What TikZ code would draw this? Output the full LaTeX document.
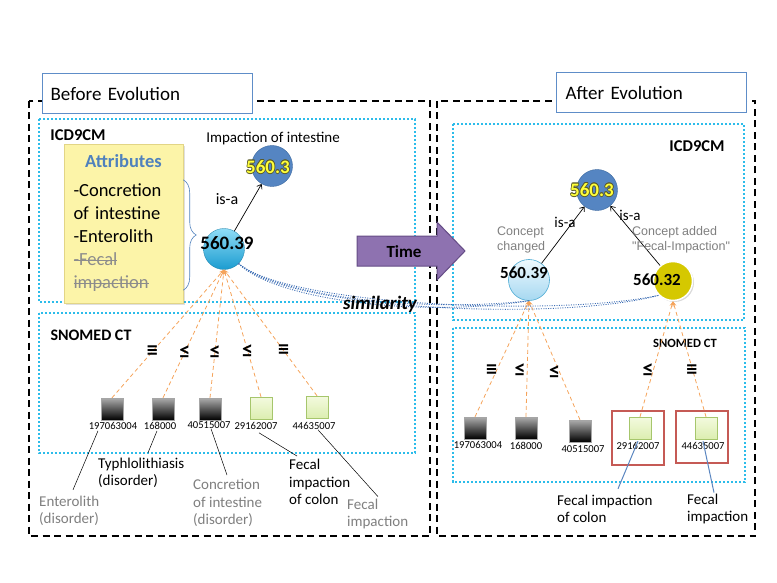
\documentclass[tikz,border=0pt]{standalone}
\usepackage{fontspec}
\setmainfont{Carlito}
\newfontfamily\arialfont{Liberation Sans}
\usetikzlibrary{positioning,arrows.meta,calc,decorations.pathreplacing,shadows}

\definecolor{titleblue}{HTML}{5E8DC8}
\definecolor{cyanline}{HTML}{2CBCEA}
\definecolor{attrblue}{HTML}{4F81BD}
\definecolor{attrfill}{HTML}{FCF4A8}
\definecolor{attrline}{HTML}{E2D586}
\definecolor{strikegray}{HTML}{8C8C8C}
\definecolor{ballblue}{HTML}{5585C2}
\definecolor{ballline}{HTML}{3B689F}
\definecolor{hlyellow}{HTML}{FFFF3A}
\definecolor{hlrim}{HTML}{5A5A28}
\definecolor{cyantop}{HTML}{8FDCF6}
\definecolor{cyanbot}{HTML}{1B9CD0}
\definecolor{paletop}{HTML}{EEF9FE}
\definecolor{palebot}{HTML}{A6D8F1}
\definecolor{paleline}{HTML}{4BAAD3}
\definecolor{olivefill}{HTML}{D5C800}
\definecolor{sqgreentop}{HTML}{F3FADF}
\definecolor{sqgreenbot}{HTML}{DCEEB0}
\definecolor{sqgreenline}{HTML}{A6C66C}
\definecolor{maporange}{HTML}{F5A35A}
\definecolor{simblue}{HTML}{3F6FB5}
\definecolor{timefill}{HTML}{8E72B0}
\definecolor{timeline}{HTML}{654C86}
\definecolor{redbox}{HTML}{C55A55}
\definecolor{notegray}{HTML}{7F7F7F}
\definecolor{pointerblue}{HTML}{5B86C0}

% struck-through text
\newcommand{\struck}[1]{\leavevmode
  \setbox0=\hbox{#1}\rlap{\rule[0.27em]{\wd0}{0.7pt}}\box0}
% yellow code with a dark rim
\newcommand{\rimmed}[1]{\leavevmode
  \setbox0=\hbox{#1}%
  \rlap{\color{hlrim}\kern0.7pt\copy0}%
  \rlap{\color{hlrim}\kern-0.7pt\copy0}%
  \rlap{\color{hlrim}\raisebox{0.7pt}{\copy0}}%
  \rlap{\color{hlrim}\raisebox{-0.7pt}{\copy0}}%
  \rlap{\color{hlrim}\kern0.5pt\raisebox{0.5pt}{\copy0}}%
  \rlap{\color{hlrim}\kern-0.5pt\raisebox{0.5pt}{\copy0}}%
  \rlap{\color{hlrim}\kern0.5pt\raisebox{-0.5pt}{\copy0}}%
  \rlap{\color{hlrim}\kern-0.5pt\raisebox{-0.5pt}{\copy0}}%
  \box0}

\begin{document}
\begin{tikzpicture}[
    x=1pt, y=-1pt,
    >=Stealth,
    frame/.style={draw=black, line width=1.6pt, dash pattern=on 7pt off 4.5pt},
    titlebox/.style={
        rectangle,
        draw=titleblue,
        line width=1.3pt,
        fill=white,
        anchor=north west,
        align=left,
        font=\fontsize{19}{22}\selectfont
    },
    ontobox/.style={draw=cyanline, line width=1.1pt, dash pattern=on 2.4pt off 1.6pt},
    ontolbl/.style={font=\bfseries\fontsize{16.5}{18}\selectfont},
    attrbox/.style={
        rectangle,
        draw=attrline,
        fill=attrfill,
        drop shadow={opacity=0.25, shadow xshift=2pt, shadow yshift=-2pt},
        minimum width=119pt,
        minimum height=159pt,
        inner xsep=9.5pt,
        text width=100pt,
        align=left,
        font=\fontsize{18.5}{23}\selectfont
    },
    concept/.style={circle, minimum size=41pt, inner sep=0pt},
    codelbl/.style={font=\bfseries\fontsize{19}{20}\selectfont, inner sep=0pt},
    codesmall/.style={font=\bfseries\fontsize{17}{18}\selectfont, inner sep=0pt},
    isa/.style={->, >={Straight Barb[length=4pt,width=6pt]}, line width=0.7pt},
    isalbl/.style={font=\fontsize{16}{18}\selectfont},
    sct/.style={rectangle, minimum size=22pt, inner sep=0pt},
    darksq/.style={sct, draw=gray!70, top color=gray!65, bottom color=black},
    greensq/.style={sct, draw=sqgreenline, top color=sqgreentop, bottom color=sqgreenbot},
    sctid/.style={font=\fontsize{10.6}{12}\selectfont, inner sep=1pt},
    rel/.style={font=\bfseries\fontsize{22}{24}\selectfont, inner sep=0pt},
    mapping/.style={draw=maporange, line width=0.8pt, dash pattern=on 4pt off 3pt,
        -{Stealth[length=5pt,width=4pt]}},
    similar/.style={draw=simblue, line width=0.9pt, dash pattern=on 1pt off 1.4pt},
    note/.style={align=left, anchor=west, inner sep=0pt, font=\fontsize{15}{17.5}\selectfont},
    graynote/.style={note, text=notegray},
    pointer/.style={draw=black, line width=0.5pt},
    bluepointer/.style={draw=pointerblue, line width=1pt},
    remark/.style={align=left, anchor=west, inner sep=0pt, text=notegray,
        font=\arialfont\fontsize{12.5}{15}\selectfont},
    focus/.style={rectangle, draw=redbox, line width=1.6pt}
]
\useasboundingbox (0,0) rectangle (777,583);

% frames
\draw[frame] (29,101) rectangle (430,536);
\draw[frame] (437,101) rectangle (755,536);
\node[titlebox, minimum width=210pt, minimum height=40pt, inner xsep=8pt, text width=194pt]
    (before) at (42,73) {Before Evolution};
\node[titlebox, minimum width=190pt, minimum height=40pt, inner xsep=9pt, text width=172pt]
    (after) at (556,72) {After Evolution};

% ontology boxes
\draw[ontobox] (39,119) rectangle (415,302);
\draw[ontobox] (39,313) rectangle (415,453);
\draw[ontobox] (453,124) rectangle (744,320);
\draw[ontobox] (453,328) rectangle (745,482);

\node[ontolbl] (licd) at (78,135) {ICD9CM};
\node[ontolbl, font=\bfseries\fontsize{16}{18}\selectfont] (lsct) at (91,335) {SNOMED CT};
\node[ontolbl] (ricd) at (697,146) {ICD9CM};
\node[ontolbl, font=\bfseries\fontsize{12.6}{14}\selectfont] (rsct) at (685,343) {SNOMED CT};

% time
\draw[fill=timefill, draw=timeline, line width=1pt]
    (357,236) -- (437,236) -- (437,222) -- (465,251) -- (437,280) -- (437,266) -- (357,266) -- cycle;
\node[font=\bfseries\fontsize{17}{18}\selectfont] (time) at (404,252) {Time};

% before evolution: ICD9CM
\node[attrbox] (attr) at (123.5,223.5) {%
    {\color{attrblue}\bfseries\makebox[100pt]{Attributes}}\\[6pt]
    -Concretion\\
    of intestine\\
    -Enterolith\\
    \textcolor{strikegray}{\struck{-Fecal}}\\
    \textcolor{strikegray}{\struck{impaction}}};
\draw[attrblue, line width=0.6pt, decorate, decoration={brace, amplitude=13pt}]
    ($(attr.north east)+(0,36)$) -- ($(attr.south east)+(0,-13)$);

\node[concept, draw=ballline, fill=ballblue] (l3) at (272,166) {};
\node[codelbl, text=hlyellow] (l3t) at (268,167) {\rimmed{560.3}};
\node[font=\fontsize{15}{17}\selectfont] (l3cap) at (273,139) {Impaction of intestine};
\node[concept, draw=cyanbot!80!black, line width=0.3pt, top color=cyantop, bottom color=cyanbot] (l39) at (224,249) {};
\node[codelbl] (l39t) at (227,243) {560.39};
\draw[isa] (l39) -- (l3);
\node[isalbl] (lisa) at (227,199) {is-a};

% before evolution: SNOMED CT
\node[darksq] (ls1) at (112,409) {};
\node[darksq] (ls2) at (163,409) {};
\node[darksq] (ls3) at (210,409) {};
\node[greensq] (ls4) at (261,408) {};
\node[greensq] (ls5) at (317,407) {};
\node[sctid] (lid1) at (113,426) {197063004};
\node[sctid] (lid2) at (160,426) {168000};
\node[sctid] (lid3) at (209,425) {40515007};
\node[sctid] (lid4) at (256,426) {29162007};
\node[sctid] (lid5) at (314,426) {44635007};

\foreach \s/\r in {ls1/≡, ls2/≤, ls3/≤, ls4/≤, ls5/≡}
    \draw[mapping] (\s.north) -- node[rel, pos=0.36] {\r} (l39.south);

\node[graynote] (lnote1) at (39,511) {Enterolith\\(disorder)};
\node[note] (lnote2) at (98,473) {Typhlolithiasis\\(disorder)};
\node[graynote] (lnote3) at (193,503) {Concretion\\of intestine\\(disorder)};
\node[note] (lnote4) at (289,482) {Fecal\\impaction\\of colon};
\node[graynote] (lnote5) at (347,514) {Fecal\\impaction};

\draw[pointer] ($(lnote1.north west)+(34,-6)$) -- ($(lid1.south)+(-15,0)$);
\draw[pointer] ($(lnote2.north west)+(50,-5)$) -- ($(lid2.south)+(-3,0)$);
\draw[pointer] ($(lnote3.north west)+(34,-4)$) -- ($(lid3.south)+(2,-1)$);
\draw[pointer] ($(lnote4.north west)+(8,-3)$) -- ($(lid4.south)+(3,2)$);
\draw[pointer] ($(lnote5.north west)+(31,-2)$) -- ($(lid5.south)+(4,-1)$);

% after evolution: ICD9CM
\node[concept, draw=ballline, fill=ballblue] (r3) at (597,190) {};
\node[codelbl, text=hlyellow] (r3t) at (592,190) {\rimmed{560.3}};
\node[concept, draw=paleline, line width=0.6pt, top color=paletop, bottom color=palebot] (r39) at (529,280) {};
\node[codesmall] (r39t) at (524,273) {560.39};
\node[concept, minimum size=39pt, draw=white, line width=1.5pt, fill=olivefill,
      drop shadow={opacity=0.3, shadow xshift=1.5pt, shadow yshift=-1.5pt}] (r32) at (673,281) {};
\node[codesmall] (r32t) at (657,280) {560.32};
\draw[isa] (r39) -- (r3);
\draw[isa] (r32) -- (r3);
\node[isalbl, font=\fontsize{15}{17}\selectfont] (risa1) at (565,222) {is-a};
\node[isalbl, font=\fontsize{15}{17}\selectfont] (risa2) at (630,215) {is-a};
\node[remark] (changed) at (497,240) {Concept\\changed};
\node[remark] (added) at (632,240) {Concept added\\"Fecal-Impaction"};

% after evolution: SNOMED CT
\node[focus, minimum width=52pt, minimum height=54pt] (hl1) at (638,438) {};
\node[focus, minimum width=52pt, minimum height=52pt] (hl2) at (702,437) {};
\node[darksq] (rs1) at (475,428) {};
\node[darksq] (rs2) at (526,428) {};
\node[darksq] (rs3) at (580,431) {};
\node[greensq] (rs4) at (640,428) {};
\node[greensq] (rs5) at (706,428) {};
\node[sctid] (rid1) at (478,445) {197063004};
\node[sctid] (rid2) at (526,446) {168000};
\node[sctid] (rid3) at (583,449) {40515007};
\node[sctid] (rid4) at (638,446) {29162007};
\node[sctid] (rid5) at (703,446) {44635007};

\foreach \s/\r/\sh in {rs1/≡/-5pt, rs2/≤/-7pt, rs3/≤/-5pt}
    \draw[mapping] (\s.north) -- node[rel, pos=0.4, xshift=\sh] {\r} (r39.south);
\foreach \s/\r/\sh in {rs4/≤/-5pt, rs5/≡/-1pt}
    \draw[mapping] (\s.north) -- node[rel, pos=0.4, xshift=\sh] {\r} (r32.south);

\node[note] (rnote1) at (557,509) {Fecal impaction\\of colon};
\node[note] (rnote2) at (687,509) {Fecal\\impaction};
\draw[bluepointer] ($(rnote1.north west)+(61,-6)$) -- ($(rs4.south)+(-2,2)$);
\draw[bluepointer] ($(rnote2.north west)+(27,-1)$) -- ($(rs5.south)+(-3,2)$);

% similarity
\draw[similar] (l39.south east) .. controls (275,300) and (420,318) .. (r39.south);
\draw[similar] (l39.south east) .. controls (278,296) and (420,313) .. (r39.south);
\draw[similar] (l39.south east) .. controls (285,310) and (560,322) .. (r32.south west);
\draw[similar] (l39.south east) .. controls (288,306) and (560,317) .. (r32.south west);
\node[font=\bfseries\itshape\fontsize{19}{20}\selectfont] (sim) at (380,304) {similarity};

\end{tikzpicture}
\end{document}
